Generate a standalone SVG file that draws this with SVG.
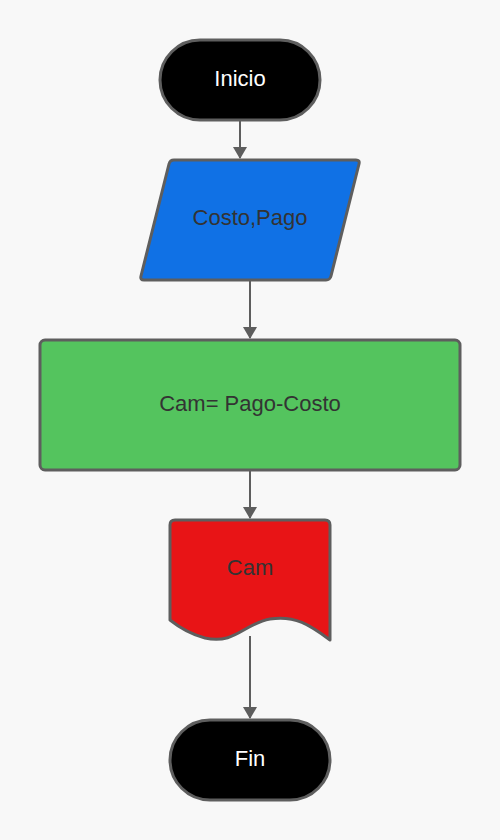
<svg xmlns="http://www.w3.org/2000/svg" width="500" height="840" viewBox="0 0 500 840">
<defs>
<marker id="ah" markerWidth="12" markerHeight="14" viewBox="0 0 12 14" refX="11" refY="7" orient="auto" markerUnits="userSpaceOnUse">
<path d="M0,0 L12,7 L0,14 Z" fill="#5E5E5E"/>
</marker>
<style>
.shape{stroke:#5E5E5E;stroke-width:3;stroke-linejoin:round}
.lbl{font-family:"Liberation Sans",Arial,sans-serif;font-size:22px;text-anchor:middle;dominant-baseline:central}
.dark{fill:#333333}
.light{fill:#FFFFFF}
.conn{stroke:#5E5E5E;stroke-width:2;fill:none;marker-end:url(#ah)}
</style>
</defs>
<rect width="500" height="840" fill="#F8F8F8"/>
<g id="connectors">
<line class="conn" x1="240" y1="121" x2="240" y2="158"/>
<line class="conn" x1="250" y1="281" x2="250" y2="338"/>
<line class="conn" x1="250" y1="471" x2="250" y2="518"/>
<line class="conn" x1="250" y1="636" x2="250" y2="718"/>
</g>
<g id="inicio">
<rect class="shape" x="160" y="40" width="160" height="80" rx="40" fill="#000000"/>
<text class="lbl light" x="240" y="78">Inicio</text>
</g>
<g id="entrada">
<path class="shape" d="M174,160 L356,160 Q360,160 359,164 L331,276 Q330,280 326,280 L144,280 Q140,280 141,276 L169,164 Q170,160 174,160 Z" fill="#1071E5"/>
<text class="lbl dark" x="250" y="217">Costo,Pago</text>
</g>
<g id="proceso">
<rect class="shape" x="40" y="340" width="420" height="130" rx="5" fill="#54C45E"/>
<text class="lbl dark" x="250" y="403">Cam= Pago-Costo</text>
</g>
<g id="salida">
<path class="shape" d="M175,520 L325,520 Q330,520 330,525 L330,640 C310,625 295,615 270,619 C245,623 235,645 205,638 C190,634 180,628 170,620 L170,525 Q170,520 175,520 Z" fill="#E81416"/>
<text class="lbl dark" x="250" y="567">Cam</text>
</g>
<g id="fin">
<rect class="shape" x="170" y="720" width="160" height="80" rx="40" fill="#000000"/>
<text class="lbl light" x="250" y="758">Fin</text>
</g>
</svg>
